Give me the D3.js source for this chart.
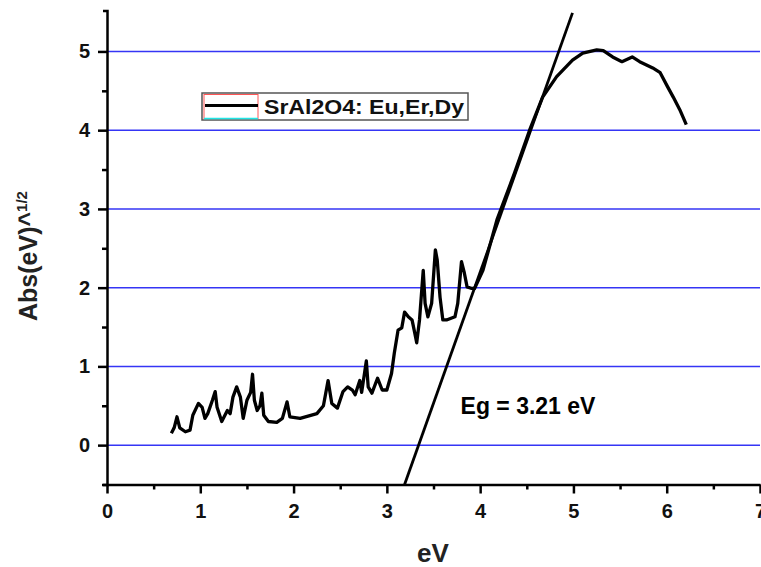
<!DOCTYPE html>
<html>
<head>
<meta charset="utf-8">
<script src="https://cdn.jsdelivr.net/npm/d3@7"></script>
<style>
  body { margin: 0; background: #fff; }
  svg text { font-family: "Liberation Sans", Arial, sans-serif; font-weight: bold; }
</style>
</head>
<body>
<div id="chart"></div>
<script>
// photon energy (eV) and (abs*eV)^1/2
var energy = [0.69, 0.72, 0.75, 0.78, 0.84, 0.89, 0.92, 0.98, 1.02, 1.05, 1.08, 1.13, 1.16, 1.18, 1.23,
  1.29, 1.32, 1.35, 1.39, 1.43, 1.46, 1.50, 1.54, 1.56, 1.58, 1.61, 1.64, 1.66, 1.68, 1.73, 1.82, 1.88,
  1.93, 1.96, 2.07, 2.25, 2.32, 2.37, 2.41, 2.47, 2.53, 2.58, 2.63, 2.66, 2.71, 2.73, 2.78, 2.80, 2.84,
  2.90, 2.95, 3.00, 3.05, 3.08, 3.12, 3.16, 3.19, 3.23, 3.27, 3.30, 3.32, 3.35, 3.39, 3.41, 3.44, 3.48,
  3.52, 3.54, 3.57, 3.60, 3.64, 3.73, 3.76, 3.80, 3.83, 3.86, 3.91, 3.94, 4.03, 4.18, 4.37, 4.53, 4.67,
  4.82, 4.99, 5.10, 5.25, 5.32, 5.42, 5.52, 5.63, 5.71, 5.85, 5.93, 6.01, 6.07, 6.14, 6.21];
var absRoot = [0.15, 0.22, 0.36, 0.22, 0.17, 0.19, 0.38, 0.53, 0.48, 0.34, 0.40, 0.57, 0.68, 0.48, 0.30,
  0.44, 0.40, 0.61, 0.74, 0.61, 0.34, 0.57, 0.67, 0.90, 0.57, 0.44, 0.50, 0.66, 0.38, 0.30, 0.29, 0.34,
  0.55, 0.36, 0.34, 0.40, 0.50, 0.82, 0.53, 0.47, 0.68, 0.74, 0.70, 0.64, 0.82, 0.67, 1.07, 0.74, 0.66,
  0.85, 0.70, 0.70, 0.91, 1.17, 1.46, 1.49, 1.69, 1.63, 1.59, 1.42, 1.30, 1.59, 2.22, 1.80, 1.63, 1.80,
  2.48, 2.35, 1.88, 1.59, 1.59, 1.63, 1.80, 2.33, 2.19, 2.01, 1.99, 1.99, 2.22, 2.86, 3.46, 4.00, 4.42,
  4.68, 4.89, 4.98, 5.02, 5.01, 4.93, 4.87, 4.93, 4.87, 4.79, 4.73, 4.55, 4.42, 4.26, 4.07];

// tangent line endpoints
var tangentX = [3.19, 4.99];
var tangentY = [-0.5, 5.49];

var xTicks = [0, 1, 2, 3, 4, 5, 6, 7];
var xMinor = [0.5, 1.5, 2.5, 3.5, 4.5, 5.5, 6.5];
var yTicks = [0, 1, 2, 3, 4, 5];
var yMinor = [-0.5, 0.5, 1.5, 2.5, 3.5, 4.5];

var seriesName = "SrAl2O4: Eu,Er,Dy";
var gapLabel = "Eg = 3.21 eV";

var svgWidth = 761, svgHeight = 567;
var margin = { top: 10.5, right: 1, bottom: 82.5, left: 107 };
var chartWidth = svgWidth - margin.left - margin.right;
var chartHeight = svgHeight - margin.top - margin.bottom;

var svg = d3.select("#chart").append("svg")
  .attr("width", svgWidth)
  .attr("height", svgHeight);

var g = svg.append("g")
  .attr("transform", `translate(${margin.left}, ${margin.top})`);

var xScale = d3.scaleLinear().domain([0, 7]).range([0, chartWidth]);
var yScale = d3.scaleLinear().domain([-0.5, 5.52]).range([chartHeight, 0]);

// blue grid lines
g.selectAll(".grid").data(yTicks).enter().append("line")
  .attr("x1", 0).attr("x2", chartWidth)
  .attr("y1", d => yScale(d)).attr("y2", d => yScale(d))
  .attr("stroke", "#3535f5")
  .attr("stroke-width", 1.5);

// tangent
var line = d3.line().x(d => xScale(d[0])).y(d => yScale(d[1]));
g.append("path")
  .datum(tangentX.map((x, i) => [x, tangentY[i]]))
  .attr("d", line)
  .attr("fill", "none")
  .attr("stroke", "#000")
  .attr("stroke-width", 2.8);

// data curve
g.append("path")
  .datum(energy.map((x, i) => [x, absRoot[i]]))
  .attr("d", line)
  .attr("fill", "none")
  .attr("stroke", "#000")
  .attr("stroke-width", 3.3)
  .attr("stroke-linejoin", "round");

// axes
var fmt = d3.format("d");
g.append("g").attr("transform", `translate(0, ${chartHeight})`)
  .call(d3.axisBottom(xScale).tickValues(xTicks).tickFormat(fmt).tickSize(9).tickSizeOuter(0).tickPadding(10));
g.append("g").attr("transform", `translate(0, ${chartHeight})`)
  .call(d3.axisBottom(xScale).tickValues(xMinor).tickSize(5).tickFormat("").tickSizeOuter(0))
  .select(".domain").remove();

g.append("g")
  .call(d3.axisLeft(yScale).tickValues(yTicks).tickFormat(fmt).tickSize(9).tickSizeOuter(4).tickPadding(8));
g.append("g")
  .call(d3.axisLeft(yScale).tickValues(yMinor).tickSize(5).tickFormat("").tickSizeOuter(0))
  .select(".domain").remove();

g.selectAll(".domain").attr("stroke-width", 2.5);
g.selectAll(".tick line").attr("stroke-width", 2.5);
g.selectAll(".tick text").attr("font-size", "20px").attr("fill", "#111")
  .style("font-family", "'Liberation Sans', Arial, sans-serif").style("font-weight", "bold");

// axis titles
svg.append("text")
  .attr("x", 433).attr("y", 562)
  .attr("text-anchor", "middle")
  .attr("font-size", "26px")
  .attr("fill", "#222")
  .text("eV");

var yTitle = svg.append("text")
  .attr("transform", "translate(37, 256) rotate(-90)")
  .attr("text-anchor", "middle")
  .attr("font-size", "25px")
  .attr("fill", "#222");
yTitle.append("tspan").text("Abs(eV)^");
yTitle.append("tspan").attr("font-size", "15px").attr("dy", -10).text("1/2");

// gap annotation
g.append("text")
  .attr("x", xScale(3.79)).attr("y", yScale(0.4))
  .attr("font-size", "23px")
  .attr("fill", "#000")
  .text(gapLabel);

// legend
var leg = svg.append("g").attr("transform", "translate(202, 93)");
leg.append("rect").attr("width", 266).attr("height", 27)
  .attr("fill", "#fff").attr("stroke", "#555").attr("stroke-width", 1.5);
leg.append("rect").attr("x", 2).attr("y", 1.5).attr("width", 54).attr("height", 24)
  .attr("fill", "none").attr("stroke", "#ff5555").attr("stroke-width", 1);
leg.append("line").attr("x1", 2).attr("x2", 56).attr("y1", 25.5).attr("y2", 25.5)
  .attr("stroke", "#22e5e5").attr("stroke-width", 1.5);
leg.append("line").attr("x1", 3).attr("x2", 56).attr("y1", 12.5).attr("y2", 12.5)
  .attr("stroke", "#000").attr("stroke-width", 3);
leg.append("text").attr("x", 62).attr("y", 21)
  .attr("font-size", "20px").attr("fill", "#111")
  .attr("textLength", 200).attr("lengthAdjust", "spacingAndGlyphs")
  .text(seriesName);
</script>
</body>
</html>
